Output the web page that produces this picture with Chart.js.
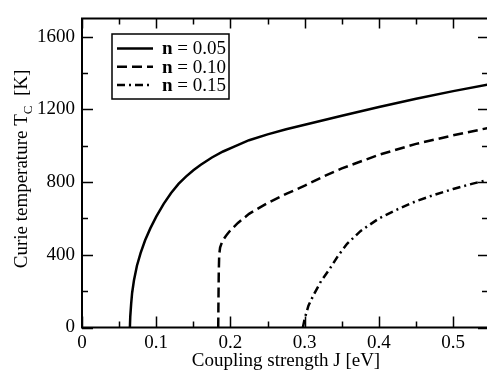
<!DOCTYPE html>
<html>
<head>
<meta charset="utf-8">
<script src="https://cdn.jsdelivr.net/npm/chart.js@4/dist/chart.umd.min.js"></script>
<style>
  html, body { margin: 0; padding: 0; background: #fff; overflow: hidden; }
  canvas { display: block; }
</style>
</head>
<body>
<canvas id="tcChart" width="487" height="376"></canvas>
<script>
// Curie temperature vs coupling strength
const jN005 = [0.0645, 0.065, 0.0662, 0.0675, 0.070, 0.074, 0.079, 0.085, 0.092, 0.100, 0.110, 0.120, 0.130, 0.140, 0.150, 0.160, 0.175, 0.190, 0.205, 0.225, 0.250, 0.275, 0.300, 0.350, 0.400, 0.450, 0.500, 0.550];
const tcN005 = [0, 60, 130, 190, 260, 340, 410, 480, 545, 610, 680, 740, 790, 830, 865, 895, 935, 968, 995, 1030, 1062, 1090, 1115, 1165, 1213, 1258, 1300, 1338];

const jN010 = [0.1835, 0.1838, 0.1842, 0.1848, 0.186, 0.189, 0.194, 0.200, 0.210, 0.225, 0.250, 0.275, 0.300, 0.325, 0.350, 0.400, 0.450, 0.500, 0.550];
const tcN010 = [0, 150, 300, 400, 440, 475, 505, 535, 575, 625, 685, 735, 780, 830, 875, 950, 1010, 1057, 1100];

const jN015 = [0.2975, 0.300, 0.305, 0.312, 0.322, 0.334, 0.345, 0.357, 0.375, 0.400, 0.425, 0.450, 0.475, 0.500, 0.525, 0.550];
const tcN015 = [0, 50, 120, 180, 255, 325, 395, 460, 530, 600, 650, 695, 730, 762, 790, 815];

const seriesLabels = ["n = 0.05", "n = 0.10", "n = 0.15"];
const xTicks = [0, 0.1, 0.2, 0.3, 0.4, 0.5];
const xMinorTicks = [0.05, 0.15, 0.25, 0.35, 0.45];
const yTicks = [0, 400, 800, 1200, 1600];
const yMinorTicks = [200, 600, 1000, 1400];

const serif = "'Liberation Serif', 'Times New Roman', serif";
Chart.defaults.font.family = serif;
Chart.defaults.color = "#000";

function pts(xs, ys) {
  return xs.map((x, i) => ({ x: x, y: ys[i] }));
}

const dashes = [[], [10, 5], [8, 4, 2, 4]];

// frame, inward ticks, titles and the boxed legend
const framePlugin = {
  id: "frame",
  afterDraw(chart) {
    const ctx = chart.ctx;
    const a = chart.chartArea;
    const xs = chart.scales.x;
    const ys = chart.scales.y;
    ctx.save();
    ctx.strokeStyle = "#000";
    ctx.lineWidth = 2;
    ctx.beginPath();
    ctx.moveTo(a.right + 2, a.top);
    ctx.lineTo(a.left, a.top);
    ctx.lineTo(a.left, a.bottom);
    ctx.lineTo(a.right + 2, a.bottom);
    ctx.stroke();

    ctx.lineWidth = 1.5;
    ctx.beginPath();
    xTicks.forEach(v => {
      const px = Math.round(xs.getPixelForValue(v)) + 0.5;
      ctx.moveTo(px, a.bottom); ctx.lineTo(px, a.bottom - 11);
      ctx.moveTo(px, a.top); ctx.lineTo(px, a.top + 10);
    });
    xMinorTicks.forEach(v => {
      const px = Math.round(xs.getPixelForValue(v)) + 0.5;
      ctx.moveTo(px, a.bottom); ctx.lineTo(px, a.bottom - 6);
      ctx.moveTo(px, a.top); ctx.lineTo(px, a.top + 6);
    });
    yTicks.forEach(v => {
      const py = Math.round(ys.getPixelForValue(v)) + 0.5;
      ctx.moveTo(a.left, py); ctx.lineTo(a.left + 11, py);
      ctx.moveTo(a.right, py); ctx.lineTo(a.right - 9, py);
    });
    yMinorTicks.forEach(v => {
      const py = Math.round(ys.getPixelForValue(v)) + 0.5;
      ctx.moveTo(a.left, py); ctx.lineTo(a.left + 6, py);
      ctx.moveTo(a.right, py); ctx.lineTo(a.right - 5, py);
    });
    ctx.stroke();

    // axis titles
    ctx.fillStyle = "#000";
    ctx.font = "19px " + serif;
    ctx.textAlign = "center";
    ctx.textBaseline = "middle";
    ctx.fillText("Coupling strength J [eV]", 286, 361);

    const main = "Curie temperature T";
    const sub = "C";
    const tail = "  [K]";
    ctx.font = "19px " + serif;
    const wMain = ctx.measureText(main).width;
    const wTail = ctx.measureText(tail).width;
    ctx.font = "13px " + serif;
    const wSub = ctx.measureText(sub).width;
    const total = wMain + wSub + wTail;
    ctx.translate(27, 169);
    ctx.rotate(-Math.PI / 2);
    ctx.textAlign = "left";
    ctx.textBaseline = "alphabetic";
    let cx = -total / 2;
    ctx.font = "19px " + serif;
    ctx.fillText(main, cx, 0);
    cx += wMain;
    ctx.font = "13px " + serif;
    ctx.fillText(sub, cx, 5);
    cx += wSub;
    ctx.font = "19px " + serif;
    ctx.fillText(tail, cx, 0);
    ctx.restore();

    // legend
    ctx.save();
    ctx.strokeStyle = "#000";
    ctx.lineWidth = 1.5;
    ctx.strokeRect(112, 34, 117, 65);
    chart.data.datasets.forEach((ds, i) => {
      const y = 48.5 + i * 18.3;
      ctx.lineWidth = 2.5;
      ctx.setLineDash(ds.borderDash || []);
      ctx.beginPath();
      ctx.moveTo(117, y);
      ctx.lineTo(153, y);
      ctx.stroke();
      ctx.setLineDash([]);
      ctx.fillStyle = "#000";
      ctx.textAlign = "left";
      ctx.textBaseline = "middle";
      ctx.font = "bold 19px " + serif;
      ctx.fillText("n", 162, y + 1);
      const wn = ctx.measureText("n").width;
      ctx.font = "19px " + serif;
      ctx.fillText(ds.label.slice(1), 162 + wn, y + 1);
    });
    ctx.restore();
  }
};

const ctx = document.getElementById("tcChart").getContext("2d");
const tcChart = new Chart(ctx, {
  type: "line",
  data: {
    datasets: [
      { label: seriesLabels[0], data: pts(jN005, tcN005) },
      { label: seriesLabels[1], data: pts(jN010, tcN010) },
      { label: seriesLabels[2], data: pts(jN015, tcN015) },
    ].map((ds, i) => Object.assign(ds, {
      borderColor: "#000",
      borderWidth: 2.5,
      borderDash: dashes[i],
      pointRadius: 0,
      fill: false,
      tension: 0,
    })),
  },
  options: {
    responsive: false,
    devicePixelRatio: 1,
    animation: false,
    layout: { padding: { top: 7, right: 0, left: 0, bottom: 0 } },
    scales: {
      x: {
        type: "linear",
        min: 0,
        max: 0.5455,
        grid: { display: false, drawTicks: false },
        border: { display: false },
        afterBuildTicks: s => { s.ticks = xTicks.map(v => ({ value: v })); },
        afterFit: s => { s.height = 48.5; },
        ticks: {
          padding: 4,
          maxRotation: 0,
          font: { size: 19 },
          callback: v => (v === 0 ? "0" : v.toFixed(1)),
        },
      },
      y: {
        type: "linear",
        min: 0,
        max: 1700,
        grid: { display: false, drawTicks: false },
        border: { display: false },
        afterBuildTicks: s => { s.ticks = yTicks.map(v => ({ value: v })); },
        afterFit: s => { s.width = 82; },
        ticks: {
          padding: 7,
          font: { size: 19 },
          callback: v => String(v),
        },
      },
    },
    plugins: {
      legend: { display: false },
      tooltip: { enabled: false },
    },
  },
  plugins: [framePlugin],
});
</script>
</body>
</html>
